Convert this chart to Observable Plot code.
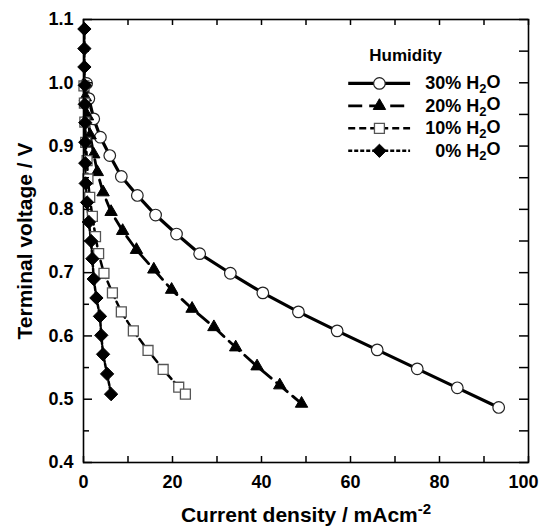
<!DOCTYPE html>
<html><head><meta charset="utf-8">
<script src="https://cdn.jsdelivr.net/npm/d3@7"></script>
<script src="https://cdn.jsdelivr.net/npm/@observablehq/plot@0.6"></script>
<style>
body{margin:0;background:#fff;}
#chart svg{font-family:"Liberation Sans",Arial,sans-serif;}
</style>
</head><body><div id="chart"></div>
<script>
// ---- data ----
const seriesNames = ["30% H2O", "20% H2O", "10% H2O", "0% H2O"];
const current30 = [0.7, 1.2, 2.3, 3.8, 5.9, 8.5, 12.1, 16.2, 20.9, 26.1, 33.0, 40.3, 48.3, 57.0, 66.0, 75.0, 84.0, 93.3];
const voltage30 = [0.999, 0.975, 0.943, 0.914, 0.885, 0.852, 0.822, 0.791, 0.761, 0.730, 0.699, 0.668, 0.638, 0.608, 0.578, 0.548, 0.518, 0.487];
const current20 = [0.4, 0.9, 1.5, 2.3, 3.1, 4.4, 6.2, 8.8, 11.9, 15.8, 19.8, 24.4, 29.3, 34.2, 39.0, 44.1, 49.0];
const voltage20 = [0.977, 0.947, 0.917, 0.887, 0.859, 0.827, 0.796, 0.766, 0.736, 0.705, 0.673, 0.643, 0.614, 0.582, 0.552, 0.522, 0.493];
const current10 = [0.1, 0.2, 0.3, 0.5, 0.8, 1.0, 1.4, 2.0, 2.7, 3.4, 4.6, 6.5, 8.5, 11.2, 14.5, 17.9, 21.4, 22.9];
const voltage10 = [0.995, 0.968, 0.938, 0.906, 0.877, 0.848, 0.819, 0.789, 0.757, 0.730, 0.699, 0.668, 0.638, 0.608, 0.577, 0.547, 0.519, 0.508];
const current0 = [0.2, 0.2, 0.2, 0.3, 0.3, 0.4, 0.4, 0.4, 0.5, 0.8, 1.2, 1.7, 2.0, 2.3, 2.9, 3.7, 4.0, 4.4, 5.3, 6.2];
const voltage0 = [1.085, 1.054, 1.025, 0.996, 0.966, 0.937, 0.906, 0.873, 0.841, 0.811, 0.780, 0.750, 0.722, 0.690, 0.660, 0.631, 0.601, 0.571, 0.540, 0.508];
const xTickLabels = [0, 20, 40, 60, 80, 100];
const xTicksAll = [0, 10, 20, 30, 40, 50, 60, 70, 80, 90, 100];
const yTickLabels = [0.4, 0.5, 0.6, 0.7, 0.8, 0.9, 1.0, 1.1];
const yTicksMinor = [0.45, 0.55, 0.65, 0.75, 0.85, 0.95, 1.05];
const legendTitle = "Humidity";
const xTitle = "Current density / mAcm-2";
const yTitle = "Terminal voltage / V";

// ---- build ----
const seriesData = [[current30, voltage30], [current20, voltage20], [current10, voltage10], [current0, voltage0]];
const rowsBySeries = seriesData.map(([xs, ys], i) => xs.map((x, j) => ({series: seriesNames[i], x, y: ys[j]})));

const styles = [
  {dash: null, sw: 3.2, symbol: "circle", fill: "white", stroke: "#222", r: 5.8, msw: 1.2},
  {dash: "14,7", sw: 2.8, symbol: "triangle", fill: "black", stroke: "black", r: 4.6, msw: 1},
  {dash: "7,4", sw: 2.5, symbol: "square", fill: "white", stroke: "#555", r: 5.6, msw: 1.3},
  {dash: "4,2", sw: 2.5, symbol: "diamond2", fill: "black", stroke: "black", r: 6, msw: 1}
];

const W = 539, H = 528, mL = 83, mR = 11, mT = 19, mB = 66;
const fw = W - mL - mR, fh = H - mT - mB;

const marks = [];
rowsBySeries.forEach((rows, i) => {
  const s = styles[i];
  marks.push(Plot.line(rows, {x: "x", y: "y", stroke: "black", strokeWidth: s.sw, strokeDasharray: s.dash}));
});
rowsBySeries.forEach((rows, i) => {
  const s = styles[i];
  marks.push(Plot.dot(rows, {x: "x", y: "y", symbol: () => s.symbol, r: s.r, fill: s.fill, stroke: s.stroke, strokeWidth: s.msw}));
});

// legend (in data coordinates)
const legX1 = 59.6, legX2 = 73.5, legXm = 66.5, legXt = 93.7;
const legendRows = seriesNames.map((name, i) => ({name, i, y: 0.999 - i * 0.0355}));
legendRows.forEach(r => {
  const s = styles[r.i];
  marks.push(Plot.ruleY([r], {y: "y", x1: legX1, x2: legX2, stroke: "black", strokeWidth: s.sw, strokeDasharray: s.dash}));
  marks.push(Plot.dot([r], {x: legXm, y: "y", symbol: () => s.symbol, r: s.r, fill: s.fill, stroke: s.stroke, strokeWidth: s.msw}));
});
marks.push(Plot.text(legendRows, {x: legXt, y: "y", text: "name", textAnchor: "end", fontSize: 18, fontWeight: "bold", fill: "black"}));
marks.push(Plot.text([legendTitle], {x: 72.4, y: 1.043, text: d => d, fontSize: 17, fontWeight: "bold", fill: "black"}));

// frame + inward ticks
marks.push(Plot.frame({stroke: "black", strokeWidth: 1.6}));
marks.push(Plot.ruleX(xTicksAll, {x: d => d, insetTop: fh - 6, stroke: "black", strokeWidth: 1.5}));
marks.push(Plot.ruleX(xTicksAll, {x: d => d, insetBottom: fh - 6, stroke: "black", strokeWidth: 1.5}));
marks.push(Plot.ruleY(yTickLabels, {y: d => d, insetRight: fw - 9, stroke: "black", strokeWidth: 1.5}));
marks.push(Plot.ruleY(yTicksMinor, {y: d => d, insetRight: fw - 6, stroke: "black", strokeWidth: 1.5}));
marks.push(Plot.ruleY(yTickLabels.concat(yTicksMinor), {y: d => d, insetLeft: fw - 9, stroke: "black", strokeWidth: 1.5}));

// axes labels and titles
marks.push(Plot.axisX({ticks: xTickLabels, tickSize: 0, tickPadding: 13, fontSize: 18, fontWeight: "bold", label: null, tickFormat: d => String(d)}));
marks.push(Plot.axisY({ticks: yTickLabels, tickSize: 0, tickPadding: 10, fontSize: 18, fontWeight: "bold", label: null, tickFormat: d => d.toFixed(1)}));
marks.push(Plot.text([xTitle], {frameAnchor: "bottom", dy: 59, textAnchor: "middle", lineAnchor: "bottom", text: d => d, fontSize: 21, fontWeight: "bold", fill: "black"}));
marks.push(Plot.text([yTitle], {frameAnchor: "left", dx: -58, textAnchor: "middle", lineAnchor: "middle", rotate: -90, text: d => d, fontSize: 21, fontWeight: "bold", fill: "black"}));

const chart = Plot.plot({
  width: W, height: H,
  marginLeft: mL, marginRight: mR, marginTop: mT, marginBottom: mB,
  x: {domain: [0, 100]},
  y: {domain: [0.4, 1.1]},
  style: {background: "white", color: "black"},
  marks
});
document.getElementById("chart").appendChild(chart);

// sub/superscripts and edge label
d3.select(chart).selectAll("text").each(function () {
  const t = this.textContent;
  const sel = d3.select(this);
  if (t === xTitle) {
    sel.text("Current density / mAcm");
    sel.append("tspan").attr("dy", "-0.5em").attr("font-size", 15).text("-2");
  } else if (seriesNames.includes(t)) {
    const pre = t.replace("H2O", "H");
    sel.text(pre);
    sel.append("tspan").attr("dy", "0.3em").attr("font-size", 13).text("2");
    sel.append("tspan").attr("dy", "-0.3em").text("O");
  } else if (t === "100") {
    sel.attr("dx", -5);
  }
});
</script>
</body></html>
